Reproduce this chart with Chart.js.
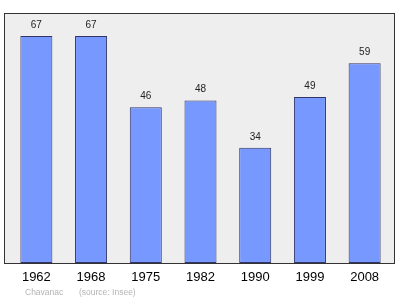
<!DOCTYPE html>
<html><head><meta charset="utf-8">
<script src="https://cdn.jsdelivr.net/npm/chart.js@4/dist/chart.umd.min.js"></script>
<style>html,body{margin:0;padding:0;background:#fff;overflow:hidden}canvas{display:block}</style>
</head><body><canvas id="c" width="400" height="299"></canvas>
<script>
const years = ["1962","1968","1975","1982","1990","1999","2008"];
const population = [67,67,46,48,34,49,59];
const footerCommune = "Chavanac";
const footerSource = "(source: Insee)";

const framePlugin = {
  id: 'frame',
  beforeDraw(chart) {
    const ctx = chart.ctx;
    ctx.save();
    ctx.fillStyle = '#eeeeee';
    ctx.fillRect(4.5, 13.5, 390, 250);
    ctx.restore();
  },
  afterDatasetsDraw(chart) {
    const ctx = chart.ctx;
    ctx.save();
    ctx.strokeStyle = '#333333';
    ctx.lineWidth = 1;
    ctx.strokeRect(4.5, 13.5, 390, 250);
    const meta = chart.getDatasetMeta(0);
    ctx.fillStyle = '#222';
    ctx.font = '10px "Liberation Sans", Arial, sans-serif';
    ctx.textAlign = 'center';
    ctx.textBaseline = 'alphabetic';
    meta.data.forEach((bar, i) => {
      ctx.fillText(String(population[i]), bar.x, bar.y - 8);
    });
    ctx.fillStyle = '#b4b4b4';
    ctx.font = '8.5px "Liberation Sans", Arial, sans-serif';
    ctx.textAlign = 'left';
    ctx.textBaseline = 'alphabetic';
    ctx.fillText(footerCommune, 25, 295);
    ctx.fillText(footerSource, 79, 295);
    ctx.restore();
  }
};

new Chart(document.getElementById('c'), {
  type: 'bar',
  data: {
    labels: years,
    datasets: [{
      data: population,
      backgroundColor: '#7799ff',
      borderColor: '#333366',
      borderWidth: 1,
      borderSkipped: false,
      barPercentage: 0.585,
      categoryPercentage: 1
    }]
  },
  options: {
    responsive: false,
    animation: false,
    devicePixelRatio: 1,
    layout: { padding: { left: 9, right: 8, top: 13, bottom: 0 } },
    plugins: { legend: { display: false }, tooltip: { enabled: false } },
    scales: {
      x: {
        offset: true,
        grid: { display: false, drawTicks: false },
        border: { display: false },
        ticks: { color: '#000', padding: 7, font: { size: 13, family: '"Liberation Sans", Arial, sans-serif' } },
        afterFit(scale) { scale.height = 36; }
      },
      y: { display: false, min: 0, max: 73.8 }
    }
  },
  plugins: [framePlugin]
});
</script></body></html>
